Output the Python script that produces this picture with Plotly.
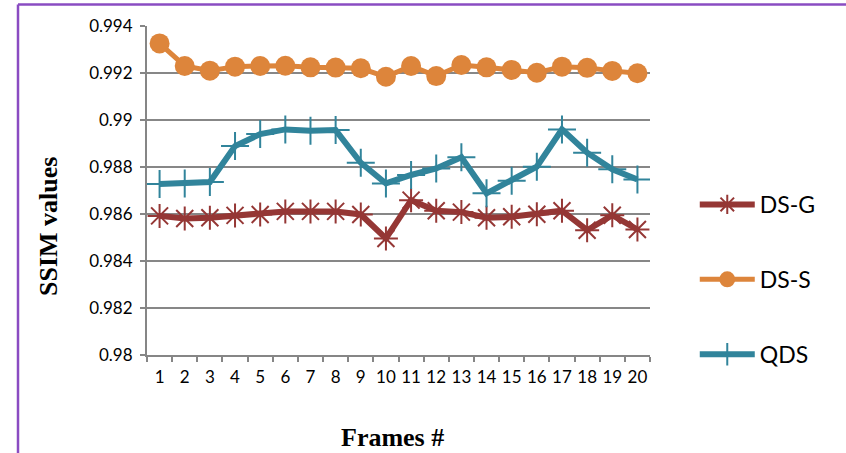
import plotly.graph_objects as go

frames = list(range(1, 21))
ds_g = [0.98592, 0.98581, 0.98584, 0.98594, 0.98598, 0.98611, 0.98611, 0.98611, 0.98598, 0.98496,
        0.98659, 0.98614, 0.98608, 0.98584, 0.98588, 0.98599, 0.98614, 0.98531, 0.98595, 0.98534]
ds_s = [0.99326, 0.99230, 0.99210, 0.99227, 0.99230, 0.99231, 0.99224, 0.99223, 0.99220, 0.99184,
        0.99230, 0.99187, 0.99234, 0.99224, 0.99213, 0.99201, 0.99227, 0.99222, 0.99209, 0.99199]
qds = [0.98728, 0.98730, 0.98736, 0.98889, 0.98940, 0.98960, 0.98954, 0.98957, 0.98818, 0.98730,
       0.98766, 0.98794, 0.98841, 0.98688, 0.98741, 0.98801, 0.98960, 0.98861, 0.98790, 0.98747]
y_ticks = [0.98, 0.982, 0.984, 0.986, 0.988, 0.99, 0.992, 0.994]
y_ticktext = ["0.98", "0.982", "0.984", "0.986", "0.988", "0.99", "0.992", "0.994"]

c_g = "#953735"
c_s = "#DD853B"
c_q = "#31849B"

fig = go.Figure()
fig.add_trace(go.Scatter(x=frames, y=ds_g, name="DS-G", mode="lines+markers", legendgroup="g",
                         line=dict(color=c_g, width=6),
                         marker=dict(symbol="asterisk-open", size=20, color=c_g,
                                     line=dict(color=c_g, width=2))))
fig.add_trace(go.Scatter(x=frames, y=ds_s, name="DS-S", mode="lines+markers", legendgroup="s",
                         line=dict(color=c_s, width=5),
                         marker=dict(symbol="circle", size=20, color=c_s)))
fig.add_trace(go.Scatter(x=frames, y=qds, name="QDS", mode="lines+markers", legendgroup="q",
                         line=dict(color=c_q, width=6),
                         marker=dict(symbol="cross-thin-open", size=20, color=c_q,
                                     line=dict(color=c_q, width=2))))

fig.update_layout(
    width=846, height=453,
    margin=dict(l=147, r=196, t=26, b=98),
    paper_bgcolor="white", plot_bgcolor="white",
    font=dict(family="Lato", size=17, color="#000000"),
    showlegend=True,
    legend=dict(x=1.089, y=0.523, xanchor="left", yanchor="top",
                font=dict(family="Lato", size=23, color="#000000"),
                tracegroupgap=42, itemwidth=55, bgcolor="rgba(0,0,0,0)"),
    xaxis=dict(range=[0.5, 20.5], tickmode="array", tickvals=frames,
               ticktext=[str(f) for f in frames], ticks="", showgrid=False,
               showline=True, linecolor="#868686", linewidth=2, zeroline=False,
               tickfont=dict(size=17), ticklabelstandoff=6,
               minor=dict(tickmode="linear", tick0=0.5, dtick=1, ticks="outside",
                          ticklen=5, tickcolor="#868686", tickwidth=2, showgrid=False)),
    yaxis=dict(range=[0.98, 0.994], tickmode="array", tickvals=y_ticks, ticktext=y_ticktext,
               ticks="outside", ticklen=5, tickcolor="#868686", tickwidth=2,
               showgrid=True, gridcolor="#878787", gridwidth=2,
               showline=True, linecolor="#868686", linewidth=2, zeroline=False,
               tickfont=dict(size=17), ticklabelstandoff=4),
    annotations=[
        dict(text="<b>SSIM values</b>", xref="paper", yref="paper",
             x=(49 - 147) / 503, y=(355 - 227) / 329, textangle=-90, showarrow=False,
             font=dict(family="Liberation Serif", size=26, color="#000000"),
             xanchor="center", yanchor="middle"),
        dict(text="<b>Frames #</b>", xref="paper", yref="paper",
             x=(392 - 147) / 503, y=(355 - 437) / 329, showarrow=False,
             font=dict(family="Liberation Serif", size=26, color="#000000"),
             xanchor="center", yanchor="middle"),
    ],
    shapes=[
        dict(type="line", xref="paper", yref="paper", x0=(18 - 147) / 503, x1=(846 - 147) / 503,
             y0=(355 - 4.5) / 329, y1=(355 - 4.5) / 329, line=dict(color="#8A4CC2", width=2.5)),
        dict(type="line", xref="paper", yref="paper", x0=(18 - 147) / 503, x1=(18 - 147) / 503,
             y0=(355 - 4.5) / 329, y1=(355 - 455) / 329, line=dict(color="#8A4CC2", width=2.5)),
    ],
)

fig.write_html("out.html", config={"displayModeBar": False},
               post_script="document.body.style.margin='0';document.body.style.overflow='hidden';")
